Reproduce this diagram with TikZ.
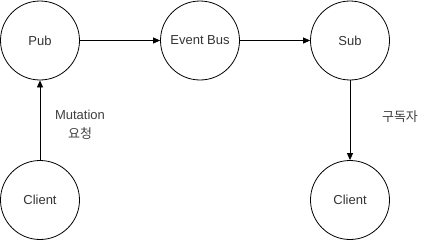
\documentclass[tikz,border=0pt]{standalone}
\usepackage{fontspec}
\setmainfont{Liberation Sans}
\newfontfamily\kofont{Noto Sans CJK KR}
\usetikzlibrary{arrows.meta}
\begin{document}
\begin{tikzpicture}[x=1pt,y=-1pt,
  circ/.style={draw=black,line width=0.8pt,circle,minimum size=79pt,inner sep=0pt,font=\fontsize{13}{15}\selectfont,text=black!80},
  conn/.style={draw=black,line width=0.8pt,-{Triangle[length=7pt,width=6pt]}},
  lbl/.style={font=\fontsize{13}{19}\selectfont,text=black!75,align=center,inner sep=0pt}]
\useasboundingbox (0,0) rectangle (431,241);
\node[circ] (pub) at (40,40.5) {Pub};
\node[circ] (bus) at (200,40.5) {Event Bus};
\node[circ] (sub) at (350,40.5) {Sub};
\node[circ] (c1) at (40,200) {Client};
\node[circ] (c2) at (350,200) {Client};
\draw[conn] (pub) -- (bus);
\draw[conn] (bus) -- (sub);
\draw[conn] (c1) -- (pub);
\draw[conn] (sub) -- (c2);
\node[lbl] (l1) at (80,125) {Mutation\\{\kofont 요청}};
\node[lbl] (l2) at (400,117) {\kofont 구독자};
\end{tikzpicture}
\end{document}
